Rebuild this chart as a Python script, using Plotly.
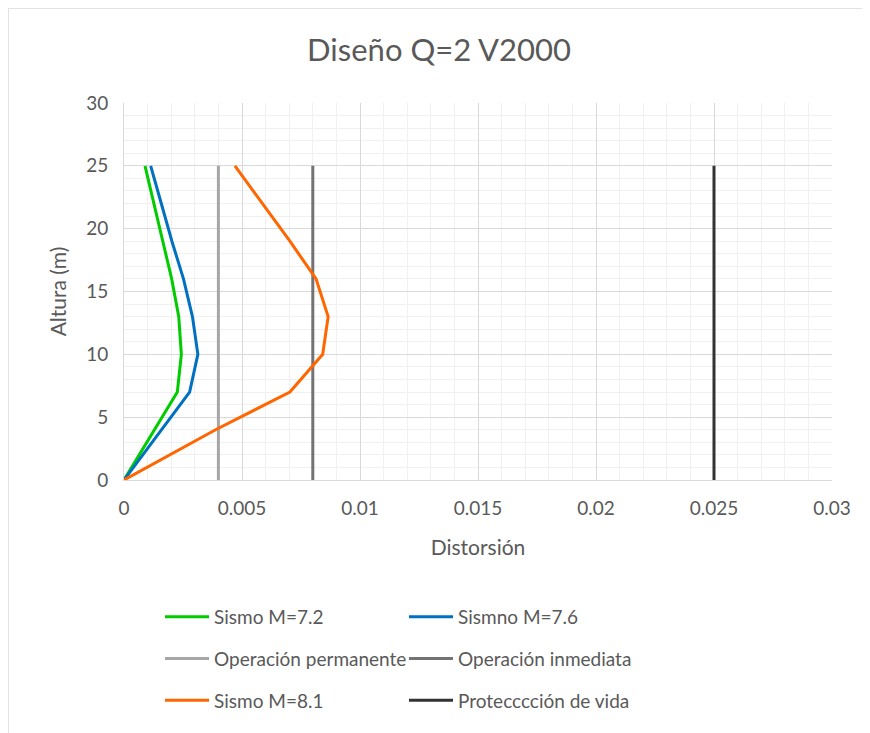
import plotly.graph_objects as go

heights = [0, 4, 7, 10, 13, 16, 19, 22, 25]
sismo_72 = [0, 0.00129, 0.00226, 0.00243, 0.00232, 0.00202, 0.00164, 0.00127, 0.00089]
sismo_76 = [0, 0.00158, 0.00278, 0.00313, 0.00290, 0.00252, 0.00203, 0.00158, 0.00113]
sismo_81 = [0, 0.00388, 0.00703, 0.00842, 0.00865, 0.00814, 0.00703, 0.00587, 0.00470]

limit_heights = [0, 25]
op_permanente = [0.004, 0.004]
op_inmediata = [0.008, 0.008]
proteccion_vida = [0.025, 0.025]

x_ticks = [0, 0.005, 0.01, 0.015, 0.02, 0.025, 0.03]
x_tick_text = ["0", "0.005", "0.01", "0.015", "0.02", "0.025", "0.03"]
y_ticks = [0, 5, 10, 15, 20, 25, 30]

FONT = "Lato"
TXT = "#595959"

# the page body adds an 8px offset; design in screen coordinates
OFF = 8
W, H = 870 - OFF, 733 - OFF
L, T = 124 - OFF, 103 - OFF
R = W - (832 - OFF)
B = H - (480 - OFF)
PW, PH = W - L - R, H - T - B

fig = go.Figure()

def add(x, y, name, color, legend, group):
    fig.add_trace(go.Scatter(x=x, y=y, mode="lines", name=name,
                             line=dict(color=color, width=3),
                             legend=legend, legendgroup=group))

add(sismo_72, heights, "Sismo M=7.2", "#00cc00", "legend", "a")
add(sismo_76, heights, "Sismno M=7.6", "#0070c0", "legend2", "b")
add(op_permanente, limit_heights, "Operación permanente", "#a6a6a6", "legend", "c")
add(op_inmediata, limit_heights, "Operación inmediata", "#737373", "legend2", "d")
add(sismo_81, heights, "Sismo M=8.1", "#ff6600", "legend", "e")
add(proteccion_vida, limit_heights, "Protecccción de vida", "#333333", "legend2", "f")

legend_common = dict(orientation="v", yanchor="top", xanchor="left",
                     font=dict(family=FONT, size=19, color=TXT),
                     tracegroupgap=14, bgcolor="rgba(0,0,0,0)", itemwidth=44,
                     yref="container")

def px_x(sx):
    return (sx - 124) / 708

def px_y(sy):
    return (480 - sy) / 377

def cy(sy):
    return 1 - (sy - OFF) / H

fig.update_layout(
    width=W, height=H,
    margin=dict(l=L, r=R, t=T, b=B),
    paper_bgcolor="white", plot_bgcolor="white",
    title=dict(text="Diseño Q=2 V2000", x=0.5, xanchor="center",
               y=cy(50), yanchor="middle",
               font=dict(family=FONT, size=31, color=TXT)),
    font=dict(family=FONT, color=TXT),
    legend=dict(x=px_x(160), y=cy(598), **legend_common),
    legend2=dict(x=px_x(404), y=cy(598), **legend_common),
    xaxis=dict(range=[0, 0.03], tickvals=x_ticks, ticktext=x_tick_text,
               showgrid=True, gridcolor="#d9d9d9", gridwidth=1,
               minor=dict(dtick=0.001, showgrid=True, gridcolor="#f0f0f0", gridwidth=1),
               zeroline=False, showline=True, linecolor="#d9d9d9", linewidth=1,
               tickfont=dict(family=FONT, size=19, color=TXT), ticks="",
               ticklabelstandoff=11,
               title=dict(text="Distorsión", font=dict(family=FONT, size=21, color=TXT), standoff=22)),
    yaxis=dict(range=[0, 30], tickvals=y_ticks,
               showgrid=True, gridcolor="#d9d9d9", gridwidth=1,
               minor=dict(dtick=1, showgrid=True, gridcolor="#f0f0f0", gridwidth=1),
               zeroline=False, showline=True, linecolor="#d9d9d9", linewidth=1,
               tickfont=dict(family=FONT, size=19, color=TXT), ticks="",
               ticklabelstandoff=11,
               title=dict(text="Altura (m)", font=dict(family=FONT, size=21, color=TXT), standoff=13)),
)

# chart-area border (top and left edges visible in the reference)
fig.add_shape(type="line", xref="paper", yref="paper",
              x0=px_x(8), x1=px_x(900), y0=px_y(8), y1=px_y(8),
              line=dict(color="#d9d9d9", width=1.5))
fig.add_shape(type="line", xref="paper", yref="paper",
              x0=px_x(8), x1=px_x(8), y0=px_y(8), y1=px_y(760),
              line=dict(color="#d9d9d9", width=1.5))

fig.write_html("out.html")
